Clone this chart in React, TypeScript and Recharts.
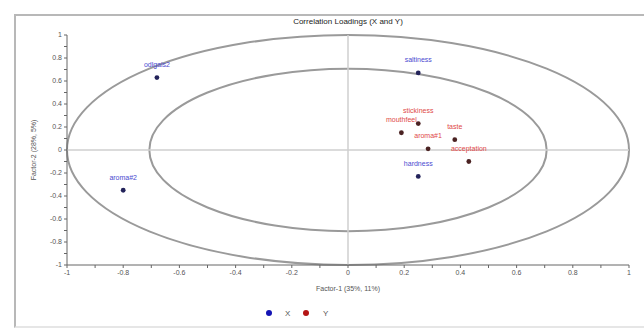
import {
  ScatterChart,
  Scatter,
  XAxis,
  YAxis,
  ReferenceLine,
  ReferenceArea,
  LabelList,
} from "recharts";

// X variables (blue)
const xNames = ["odlgals2", "aroma#2", "saltiness", "hardness"];
const xFactor1 = [-0.68, -0.8, 0.25, 0.25];
const xFactor2 = [0.63, -0.35, 0.67, -0.23];

// Y variables (red)
const yNames = ["mouthfeel", "stickiness", "aroma#1", "taste", "acceptation"];
const yFactor1 = [0.19, 0.25, 0.285, 0.38, 0.43];
const yFactor2 = [0.15, 0.23, 0.01, 0.09, -0.1];

const axisTicks = [
  -1, -0.9, -0.8, -0.7, -0.6, -0.5, -0.4, -0.3, -0.2, -0.1, 0, 0.1, 0.2, 0.3,
  0.4, 0.5, 0.6, 0.7, 0.8, 0.9, 1,
];
const labelledTicks = [-1, -0.8, -0.6, -0.4, -0.2, 0, 0.2, 0.4, 0.6, 0.8, 1];

// correlation circles: 100% and 50% explained variance
const outerRadius = 1;
const innerRadius = 0.707;

const xData = xNames.map((name, i) => ({ name, x: xFactor1[i], y: xFactor2[i] }));
const yData = yNames.map((name, i) => ({ name, x: yFactor1[i], y: yFactor2[i] }));

const fmt = (v: number) => {
  const hit = labelledTicks.find((t) => Math.abs(t - v) < 1e-9);
  if (hit === undefined) return "";
  return String(hit);
};

const Ellipse = (props: any) => {
  const { x, y, width, height } = props;
  return (
    <ellipse
      cx={x + width / 2}
      cy={y + height / 2}
      rx={width / 2}
      ry={height / 2}
      fill="none"
      stroke="#9a9a9a"
      strokeWidth={2}
    />
  );
};

const dot = (color: string) => (p: any) =>
  <circle cx={p.cx} cy={p.cy} r={2.4} fill={color} />;

export default function App() {
  const font = "'Liberation Sans', Arial, sans-serif";
  return (
    <div
      style={{
        position: "absolute",
        left: 0,
        top: 0,
        width: 644,
        height: 329,
        background: "#fff",
        fontFamily: font,
      }}
    >
      <div
        style={{
          position: "absolute",
          left: 14,
          top: 14,
          width: 640,
          height: 310,
          borderLeft: "2px solid #b8b8b8",
          borderTop: "2px solid #b8b8b8",
          borderBottom: "2px solid #e6e6e6",
        }}
      />
      <div
        style={{
          position: "absolute",
          left: 248,
          width: 200,
          top: 17,
          textAlign: "center",
          fontSize: 8,
          color: "#222",
        }}
      >
        Correlation Loadings (X and Y)
      </div>
      <ScatterChart
        width={644}
        height={329}
        margin={{ top: 35, right: 15, left: 0, bottom: 34 }}
        style={{ position: "absolute", left: 0, top: 0, fontFamily: font }}
      >
        <XAxis
          type="number"
          dataKey="x"
          domain={[-1, 1]}
          ticks={axisTicks}
          tickFormatter={fmt}
          interval={0}
          height={30}
          tickSize={3}
          tick={{ fontSize: 7, fill: "#555" }}
          stroke="#666"
          label={{
            value: "Factor-1 (35%, 11%)",
            position: "insideBottom",
            offset: 4,
            fontSize: 7,
            fill: "#555",
          }}
        />
        <YAxis
          type="number"
          dataKey="y"
          domain={[-1, 1]}
          ticks={axisTicks}
          tickFormatter={fmt}
          interval={0}
          width={67}
          tickSize={3}
          tick={{ fontSize: 7, fill: "#555" }}
          stroke="#666"
          label={{
            value: "Factor-2 (28%, 5%)",
            angle: -90,
            position: "insideLeft",
            offset: 34,
            fontSize: 7,
            fill: "#555",
            style: { textAnchor: "middle" },
          }}
        />
        <ReferenceLine x={0} stroke="#cfcfcf" strokeWidth={1.5} />
        <ReferenceLine y={0} stroke="#cfcfcf" strokeWidth={1.5} />
        <ReferenceArea
          x1={-outerRadius}
          x2={outerRadius}
          y1={-outerRadius}
          y2={outerRadius}
          ifOverflow="visible"
          shape={Ellipse}
        />
        <ReferenceArea
          x1={-innerRadius}
          x2={innerRadius}
          y1={-innerRadius}
          y2={innerRadius}
          ifOverflow="visible"
          shape={Ellipse}
        />
        <Scatter data={xData} isAnimationActive={false} shape={dot("#23235a")}>
          <LabelList
            dataKey="name"
            position="top"
            offset={6}
            fontSize={7}
            fill="#4a4ad0"
          />
        </Scatter>
        <Scatter data={yData} isAnimationActive={false} shape={dot("#4a2222")}>
          <LabelList
            dataKey="name"
            position="top"
            offset={6}
            fontSize={7}
            fill="#e04848"
          />
        </Scatter>
      </ScatterChart>
      <svg
        width={80}
        height={12}
        style={{ position: "absolute", left: 262, top: 307 }}
      >
        <circle cx={7} cy={6} r={3} fill="#1414b4" />
        <text x={23} y={9} fontSize={8} fill="#555" fontFamily={font}>
          X
        </text>
        <circle cx={44} cy={6} r={3} fill="#b41414" />
        <text x={61} y={9} fontSize={8} fill="#555" fontFamily={font}>
          Y
        </text>
      </svg>
    </div>
  );
}
